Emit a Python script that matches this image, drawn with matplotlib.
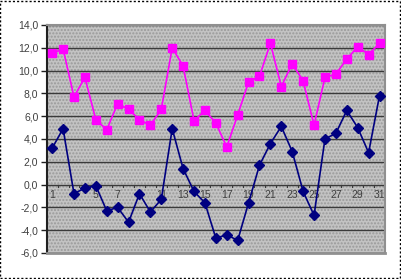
import matplotlib
matplotlib.use("Agg")
import matplotlib.pyplot as plt
from matplotlib.ticker import FixedLocator, FuncFormatter
from matplotlib.patches import Rectangle

days = list(range(1, 32))
series_pink = [11.5, 11.9, 7.7, 9.4, 5.7, 4.8, 7.1, 6.6, 5.7, 5.2, 6.6, 12.0, 10.4, 5.6, 6.5,
               5.4, 3.3, 6.1, 9.0, 9.5, 12.4, 8.6, 10.6, 9.1, 5.2, 9.4, 9.7, 11.0, 12.1, 11.4, 12.4]
series_navy = [3.2, 4.9, -0.8, -0.3, -0.1, -2.3, -2.0, -3.3, -0.8, -2.4, -1.3, 4.9, 1.4, -0.6, -1.6,
               -4.7, -4.4, -4.9, -1.6, 1.7, 3.6, 5.1, 2.9, -0.6, -2.7, 4.0, 4.5, 6.5, 5.0, 2.8, 7.8]
y_ticks = [-6, -4, -2, 0, 2, 4, 6, 8, 10, 12, 14]
x_labels = [1, 3, 5, 7, 9, 11, 13, 15, 17, 19, 21, 23, 25, 27, 29, 31]

plt.rcParams['font.family'] = ['Liberation Sans', 'DejaVu Sans']

fig = plt.figure(figsize=(4.01, 2.79), dpi=100)
fig.patch.set_facecolor('white')
# dashed outer frame
fig.patches.append(Rectangle((0.001, 0.002), 0.997, 0.996, transform=fig.transFigure,
                             fill=False, edgecolor='black', linestyle=(0, (1.5, 1.5)), linewidth=1.0))

ax = fig.add_axes([0.1165, 0.0932, 0.8435, 0.8172])
ax.set_facecolor('#c3c3c3')
ax.add_patch(Rectangle((0, 0), 1, 1, transform=ax.transAxes, facecolor='none',
                       edgecolor='#999999', hatch='.....', linewidth=0, zorder=0))
ax.set_xlim(0.5, 31.5)
ax.set_ylim(-6, 14)

for y in y_ticks:
    ax.axhline(y, color='#3a3a3a', linewidth=1.0, zorder=1)

for x in x_labels:
    ax.text(x, -0.5, str(x), ha='center', va='top', fontsize=7.5, color='#404040', zorder=2)
for b in range(1, 31):
    ax.plot([b + 0.5, b + 0.5], [0, -0.25], color='#3a3a3a', linewidth=0.8, zorder=2)

ax.plot(days, series_navy, color='#000080', linewidth=1.2, marker='D', markersize=5,
        markerfacecolor='#000080', markeredgecolor='#000080', zorder=3)
ax.plot(days, series_pink, color='#ff00ff', linewidth=1.2, marker='s', markersize=6.3,
        markerfacecolor='#ff00ff', markeredgecolor='#ff00ff', zorder=4)

for s in ['top', 'right']:
    ax.spines[s].set_color('#909090')
    ax.spines[s].set_linewidth(1.5)
ax.spines['bottom'].set_color('#909090')
ax.spines['bottom'].set_linewidth(2)
ax.spines['left'].set_color('#202020')
ax.spines['left'].set_linewidth(1.5)

ax.yaxis.set_major_locator(FixedLocator(y_ticks))
ax.yaxis.set_major_formatter(FuncFormatter(lambda v, p: f"{v:.1f}".replace('.', ',')))
ax.tick_params(axis='y', direction='out', length=4, width=1, color='#202020',
               labelsize=7.5, labelcolor='#404040', pad=2)
ax.set_xticks([])

fig.savefig('out.png', dpi=100)
